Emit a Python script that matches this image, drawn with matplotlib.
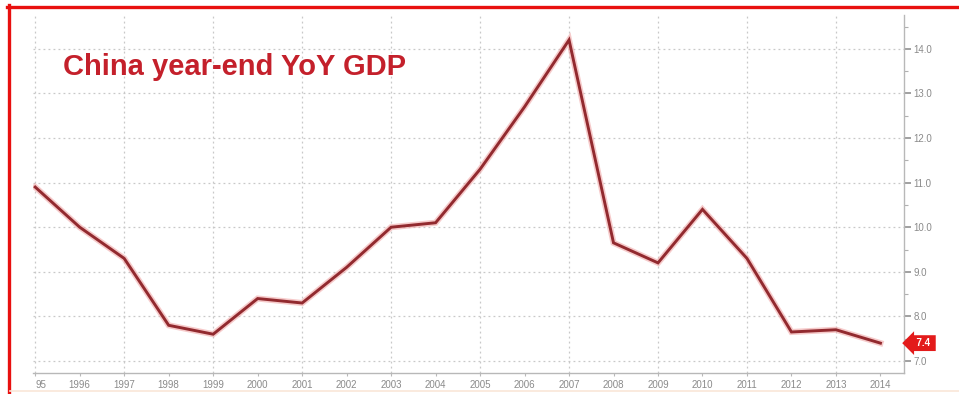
import matplotlib
matplotlib.use("Agg")
import matplotlib.pyplot as plt
from matplotlib.lines import Line2D
from matplotlib.ticker import MultipleLocator

plt.rcParams['font.family'] = ['Liberation Sans', 'DejaVu Sans']

years = list(range(1995, 2015))
gdp_yoy = [10.9, 10.0, 9.3, 7.8, 7.6, 8.4, 8.3, 9.1, 10.0, 10.1,
           11.3, 12.7, 14.2, 9.65, 9.2, 10.4, 9.3, 7.65, 7.7, 7.4]
year_labels = ["95"] + [str(y) for y in years[1:]]
y_ticks = [7.0, 8.0, 9.0, 10.0, 11.0, 12.0, 13.0, 14.0]
last_label = "7.4"

W, H = 959, 394
fig = plt.figure(figsize=(W / 100, H / 100), dpi=100)
fig.patch.set_facecolor("white")

# axes box in pixel terms: left 33, right 904, top 15, bottom 373
ax = fig.add_axes([33 / W, 1 - 373 / H, (904 - 33) / W, (373 - 15) / H])
ax.set_facecolor("white")

grid_kw = dict(color="#c8c8c8", lw=0.9, ls=(0, (1.5, 2.5)), zorder=0)
for y in y_ticks:
    ax.axhline(y, **grid_kw)
for x in years[0:-1:2]:
    ax.axvline(x, **grid_kw)

# soft halo under the main line
ax.plot(years, gdp_yoy, color="#f0a8a8", lw=4.4, alpha=0.6, solid_joinstyle="miter", zorder=2)
ax.plot(years, gdp_yoy, color="#922a2f", lw=2.1, solid_joinstyle="miter", zorder=3)

ax.set_xlim(1994.95, 2014.53)
ax.set_ylim(6.73, 14.76)

for side in ("left", "top"):
    ax.spines[side].set_visible(False)
for side in ("bottom", "right"):
    ax.spines[side].set_color("#b8b8b8")
    ax.spines[side].set_linewidth(1.0)

ax.yaxis.tick_right()
ax.set_yticks(y_ticks)
ax.set_yticklabels([f"{v:.1f}" for v in y_ticks])
ax.yaxis.set_minor_locator(MultipleLocator(0.5))
ax.tick_params(axis="y", which="major", direction="out", length=5, width=1.2,
               color="#909090", labelsize=7, labelcolor="#8a8a8a", pad=2)
ax.tick_params(axis="y", which="minor", direction="out", length=3, width=0.8,
               color="#b0b0b0")

ax.set_xticks(years)
ax.set_xticklabels(year_labels)
ax.tick_params(axis="x", direction="out", length=2, width=0.8, color="#b8b8b8",
               labelsize=7, labelcolor="#8a8a8a", pad=3)
ax.get_xticklabels()[0].set_horizontalalignment("left")

# value tag for the latest point
ax.annotate("  " + last_label + " ", xy=(1.0, gdp_yoy[-1]),
            xycoords=("axes fraction", "data"),
            xytext=(5, 0), textcoords="offset points", ha="left", va="center",
            color="white", fontsize=7, fontweight="bold",
            bbox=dict(boxstyle="larrow,pad=0.3", fc="#e31b1b", ec="none"),
            annotation_clip=False)

fig.text(63 / W, 1 - 75 / H, "China year-end YoY GDP", color="#c4202b",
         fontsize=21, fontweight="bold", ha="left", va="baseline")

# frame lines on the left, top and faint bottom
fig.add_artist(Line2D([8.5 / W, 8.5 / W], [1 - 392 / H, 1 - 5 / H],
                      transform=fig.transFigure, color="#e8100f", lw=2.4))
fig.add_artist(Line2D([7 / W, 1.0], [1 - 6.5 / H, 1 - 6.5 / H],
                      transform=fig.transFigure, color="#e8100f", lw=2.4))
fig.add_artist(Line2D([10 / W, 1.0], [1 - 391 / H, 1 - 391 / H],
                      transform=fig.transFigure, color="#fae6d8", lw=1.2))

fig.savefig("out.png", dpi=100, facecolor=fig.get_facecolor())
